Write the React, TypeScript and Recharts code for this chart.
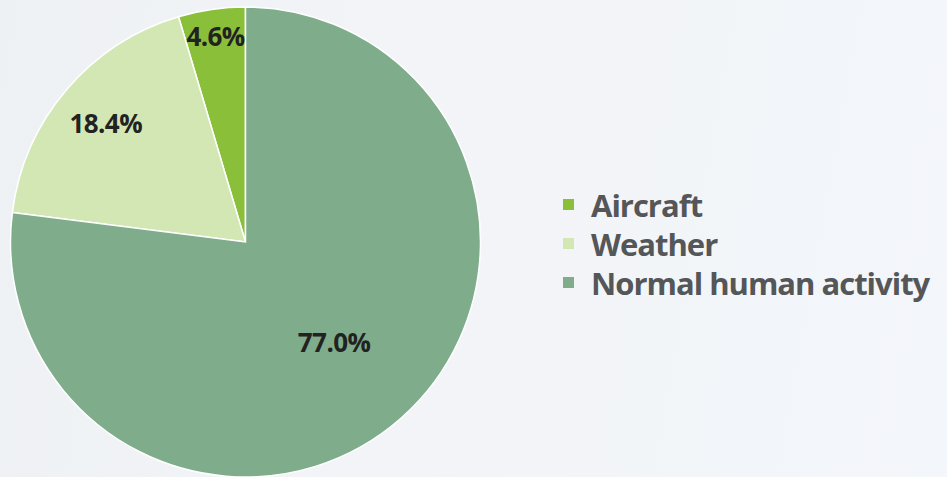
import React from "react";
import { PieChart, Pie, Cell, Legend } from "recharts";

const categories = ["Aircraft", "Weather", "Normal human activity"];
const shares = [4.6, 18.4, 77.0];
const colors = ["#8abf3a", "#d3e7b4", "#7fad8b"];

// how far out each percentage label sits, as a share of the radius
const labelReach = [0.885, 0.78, 0.57];

const data = categories.map((name, i) => ({ name, value: shares[i] }));

const RADIAN = Math.PI / 180;

const renderLabel = (props: any) => {
  const { cx, cy, midAngle, outerRadius, index, value } = props;
  const r = outerRadius * labelReach[index];
  const x = cx + r * Math.cos(-midAngle * RADIAN);
  const y = cy + r * Math.sin(-midAngle * RADIAN);
  return (
    <text
      x={x}
      y={y}
      fill="#222"
      fontSize={26}
      fontWeight={700}
      fontFamily="'Open Sans', sans-serif"
      textAnchor="middle"
      dominantBaseline="central"
      letterSpacing={-0.6}
    >
      {value.toFixed(1)}%
    </text>
  );
};

const renderLegend = () => (
  <div style={{ fontFamily: "'Open Sans', sans-serif" }}>
    {categories.map((name, i) => (
      <div
        key={name}
        style={{ display: "flex", alignItems: "center", height: 39 }}
      >
        <span
          style={{
            width: 11,
            height: 11,
            background: colors[i],
            marginRight: 17,
            display: "inline-block",
            flex: "none",
          }}
        />
        <span
          style={{
            fontSize: 31,
            fontWeight: 700,
            color: "#545658",
            letterSpacing: -1,
            whiteSpace: "nowrap",
          }}
        >
          {name}
        </span>
      </div>
    ))}
  </div>
);

export default function App() {
  return (
    <div
      style={{
        position: "fixed",
        left: 0,
        top: 0,
        width: 947,
        height: 477,
        background:
          "linear-gradient(100deg, #eef1f4 0%, #f2f4f7 40%, #f3f6fa 100%)",
        overflow: "hidden",
      }}
    >
      <PieChart
        width={947}
        height={477}
        margin={{ top: 0, right: 0, bottom: 0, left: 0 }}
      >
        <Pie
          data={data}
          dataKey="value"
          nameKey="name"
          cx={245.5}
          cy={242}
          outerRadius={235}
          startAngle={90}
          endAngle={450}
          stroke="#ffffff"
          strokeWidth={1.5}
          label={renderLabel}
          labelLine={false}
          isAnimationActive={false}
        >
          {data.map((d, i) => (
            <Cell key={d.name} fill={colors[i]} />
          ))}
        </Pie>
        <Legend
          content={renderLegend}
          layout="vertical"
          wrapperStyle={{ left: 563, top: 185, width: 384, bottom: "auto" }}
        />
      </PieChart>
    </div>
  );
}
